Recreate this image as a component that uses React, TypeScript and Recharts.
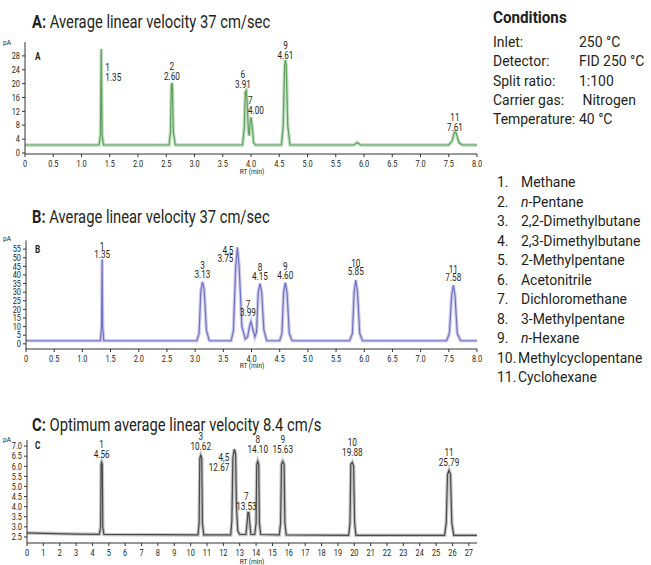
import React from "react";
import { ComposedChart, Line, XAxis, YAxis, ReferenceDot } from "recharts";

const FONT = "Roboto, 'Liberation Sans', sans-serif";
const INK = "#231f20";

// ---- chart A: 37 cm/sec (green) ----
const traceA: [number, number][] = [
	[0, 2.3], [1.31, 2.3], [1.335, 5], [1.35, 30], [1.365, 5], [1.39, 2.3],
	[2.55, 2.3], [2.575, 6], [2.59, 19.5], [2.6, 20.2], [2.61, 19], [2.625, 6], [2.66, 2.3],
	[3.85, 2.3], [3.88, 7], [3.9, 17.5], [3.915, 18], [3.93, 15], [3.955, 6], [3.97, 5],
	[3.985, 9], [4.0, 10.3], [4.02, 8], [4.045, 3], [4.08, 2.3],
	[4.54, 2.3], [4.57, 8], [4.595, 25], [4.61, 26.8], [4.625, 25], [4.65, 8], [4.69, 2.3],
	[5.82, 2.3], [5.88, 3], [5.94, 2.3],
	[7.5, 2.3], [7.56, 3.5], [7.6, 6], [7.63, 5.8], [7.68, 3], [7.74, 2.3], [8.0, 2.3],
];
const peaksA = [
	{ id: "1", rt: 1.35, pA: 30 },
	{ id: "2", rt: 2.6, pA: 20.2 },
	{ id: "6", rt: 3.91, pA: 18 },
	{ id: "7", rt: 4.0, pA: 10.3 },
	{ id: "9", rt: 4.61, pA: 26.8 },
	{ id: "11", rt: 7.61, pA: 6 },
];
const xTicksA = [0, 0.5, 1, 1.5, 2, 2.5, 3, 3.5, 4, 4.5, 5, 5.5, 6, 6.5, 7, 7.5, 8];
const yTicksA = [0, 4, 8, 12, 16, 20, 24, 28];

// ---- chart B: 37 cm/sec (blue) ----
const traceB: [number, number][] = [
	[0, 1.8], [1.32, 1.8], [1.34, 10], [1.35, 49], [1.36, 10], [1.38, 1.8],
	[3.03, 1.8], [3.07, 6], [3.1, 30], [3.13, 36], [3.16, 32], [3.2, 8], [3.25, 1.8],
	[3.64, 1.8], [3.68, 8], [3.72, 45], [3.75, 56], [3.78, 45], [3.83, 10], [3.89, 2.8],
	[3.93, 4], [3.97, 11], [3.99, 13], [4.02, 9], [4.06, 4],
	[4.09, 7], [4.12, 30], [4.15, 35], [4.18, 30], [4.22, 8], [4.27, 1.8],
	[4.5, 1.8], [4.54, 6], [4.57, 30], [4.6, 35.5], [4.63, 30], [4.67, 6], [4.72, 1.8],
	[5.74, 1.8], [5.79, 6], [5.82, 30], [5.85, 37], [5.88, 30], [5.92, 6], [5.97, 1.8],
	[7.46, 1.8], [7.51, 6], [7.55, 28], [7.58, 34], [7.61, 28], [7.65, 6], [7.71, 1.8], [8.0, 1.8],
];
const peaksB = [
	{ id: "1", rt: 1.35, pA: 49 },
	{ id: "3", rt: 3.13, pA: 36 },
	{ id: "4,5", rt: 3.75, pA: 56 },
	{ id: "7", rt: 3.99, pA: 13 },
	{ id: "8", rt: 4.15, pA: 35 },
	{ id: "9", rt: 4.6, pA: 35.5 },
	{ id: "10", rt: 5.85, pA: 37 },
	{ id: "11", rt: 7.58, pA: 34 },
];
const xTicksB = xTicksA;
const yTicksB = [0, 5, 10, 15, 20, 25, 30, 35, 40, 45, 50, 55];

// ---- chart C: 8.4 cm/s (gray) ----
const traceC: [number, number][] = [
	[0, 2.7], [1, 2.68], [3, 2.64], [4.42, 2.63], [4.5, 3.0], [4.53, 6.1], [4.56, 6.2], [4.6, 6.1], [4.63, 3.0], [4.7, 2.62],
	[8, 2.61], [10.45, 2.6], [10.52, 3.2], [10.56, 6.4], [10.62, 6.55], [10.68, 6.4], [10.72, 3.2], [10.8, 2.6],
	[12.45, 2.6], [12.52, 3.3], [12.58, 6.4], [12.67, 6.85], [12.75, 6.6], [12.8, 4], [12.88, 2.8], [13.0, 2.62],
	[13.38, 2.62], [13.46, 3.3], [13.5, 3.7], [13.56, 3.7], [13.6, 3.3], [13.68, 2.62],
	[13.92, 2.62], [14.0, 3.2], [14.04, 6.1], [14.1, 6.25], [14.16, 6.1], [14.2, 3.2], [14.28, 2.62],
	[15.42, 2.6], [15.5, 3.2], [15.55, 6.1], [15.63, 6.25], [15.71, 6.1], [15.76, 3.2], [15.84, 2.6],
	[19.66, 2.58], [19.74, 3.2], [19.79, 6.1], [19.88, 6.2], [19.96, 6.0], [20.02, 3.2], [20.1, 2.58],
	[25.52, 2.58], [25.62, 3.2], [25.7, 5.6], [25.79, 5.8], [25.88, 5.6], [25.96, 3.2], [26.08, 2.58], [27.5, 2.58],
];
const peaksC = [
	{ id: "1", rt: 4.56, pA: 6.2 },
	{ id: "3", rt: 10.62, pA: 6.55 },
	{ id: "4,5", rt: 12.67, pA: 6.85 },
	{ id: "7", rt: 13.53, pA: 3.7 },
	{ id: "8", rt: 14.1, pA: 6.25 },
	{ id: "9", rt: 15.63, pA: 6.25 },
	{ id: "10", rt: 19.88, pA: 6.2 },
	{ id: "11", rt: 25.79, pA: 5.8 },
];
const xTicksC = [0, 1, 2, 3, 4, 5, 6, 7, 8, 9, 10, 11, 12, 13, 14, 15, 16, 17, 18, 19, 20, 21, 22, 23, 24, 25, 26, 27];
const yTicksC = [2.5, 3, 3.5, 4, 4.5, 5, 5.5, 6, 6.5, 7];

const conditions = [
	["Inlet:", "250 °C"],
	["Detector:", "FID 250 °C"],
	["Split ratio:", "1:100"],
	["Carrier gas:", " Nitrogen"],
	["Temperature:", "40 °C"],
];
const compounds = [
	"Methane", "n-Pentane", "2,2-Dimethylbutane", "2,3-Dimethylbutane", "2-Methylpentane",
	"Acetonitrile", "Dichloromethane", "3-Methylpentane", "n-Hexane", "Methylcyclopentane", "Cyclohexane",
];

// label placement next to each apex (px), kept apart from the data
type Place = { anchor: "start" | "middle" | "end"; dx: number; dy: number };
const placeA: Record<string, Place> = {
	"1": { anchor: "start", dx: 4, dy: 19 },
	"2": { anchor: "middle", dx: 0, dy: -16 },
	"6": { anchor: "middle", dx: -3, dy: -16 },
	"7": { anchor: "start", dx: -3, dy: -17 },
	"9": { anchor: "middle", dx: 0, dy: -15 },
	"11": { anchor: "middle", dx: 0, dy: -15 },
};
const placeB: Record<string, Place> = {
	"1": { anchor: "middle", dx: 0, dy: -13 },
	"3": { anchor: "middle", dx: 0, dy: -16 },
	"4,5": { anchor: "end", dx: -4, dy: 3 },
	"7": { anchor: "middle", dx: -3, dy: -17 },
	"8": { anchor: "middle", dx: 0, dy: -16 },
	"9": { anchor: "middle", dx: 0, dy: -16 },
	"10": { anchor: "middle", dx: 0, dy: -17 },
	"11": { anchor: "middle", dx: 0, dy: -16 },
};
const placeC: Record<string, Place> = {
	"1": { anchor: "middle", dx: 0, dy: -18 },
	"3": { anchor: "middle", dx: 0, dy: -19 },
	"4,5": { anchor: "end", dx: -5, dy: 8 },
	"7": { anchor: "middle", dx: -2, dy: -16 },
	"8": { anchor: "middle", dx: 0, dy: -22 },
	"9": { anchor: "middle", dx: 0, dy: -22 },
	"10": { anchor: "middle", dx: 0, dy: -20 },
	"11": { anchor: "middle", dx: 0, dy: -18 },
};

// squeezes Roboto toward the condensed face of the original
const NARROW = 0.82;
const SIDE = 0.9;

const PeakLabel = (props: any) => {
	const { viewBox, peakId, rt, place, gap } = props;
	const x = viewBox.x + (viewBox.width || 0) / 2 + place.dx;
	const y = viewBox.y + (viewBox.height || 0) / 2 + place.dy;
	return (
		<g transform={`translate(${x},${y}) scale(${NARROW},1)`}>
			<text textAnchor={place.anchor} fontSize={10} fill={INK} fontFamily={FONT}>
				<tspan x={0} y={3.5}>{peakId}</tspan>
				<tspan x={0} y={gap + 3.5}>{rt.toFixed(2)}</tspan>
			</text>
		</g>
	);
};

const AxisTick = (props: any) => {
	const { x, y, payload, textAnchor, fmt, isX } = props;
	return (
		<g transform={`translate(${x},${y + (isX ? 1 : 0)}) scale(${NARROW},1)`}>
			<text textAnchor={textAnchor} dy={isX ? "0.75em" : "0.36em"} fontSize={9} fill={INK} fontFamily={FONT}>
				{fmt(payload.value)}
			</text>
		</g>
	);
};

const Txt = ({ x, y, children, size = 15, bold = false, center = false, sx = NARROW }: any) => (
	<div
		style={{
			position: "absolute",
			left: x,
			top: y,
			transform: center ? `translate(-50%, -50%) scaleX(${sx})` : `translateY(-50%) scaleX(${sx})`,
			transformOrigin: center ? "center center" : "left center",
			fontFamily: FONT,
			fontSize: size,
			fontWeight: bold ? 700 : 400,
			color: INK,
			whiteSpace: "pre",
			lineHeight: 1,
		}}
	>
		{children}
	</div>
);

const Chromatogram = (p: any) => {
	const data = p.trace.map(([rt, pA]: [number, number]) => ({ rt, pA }));
	return (
		<div style={{ position: "absolute", left: 0, top: p.top }}>
			<ComposedChart width={490} height={p.height} data={data} margin={p.margin}>
				<XAxis
					type="number"
					dataKey="rt"
					domain={p.xDomain}
					ticks={p.xTicks}
					interval={0}
					allowDataOverflow
					height={22}
					tickSize={3}
					stroke="#333"
					tick={<AxisTick fmt={p.xFmt} isX />}
				/>
				<YAxis
					type="number"
					domain={p.yDomain}
					ticks={p.yTicks}
					interval={0}
					allowDataOverflow
					width={20}
					tickSize={3}
					stroke="#333"
					tick={<AxisTick fmt={p.yFmt} />}
				/>
				<Line type="linear" dataKey="pA" stroke={p.halo} strokeWidth={3.5} dot={false} isAnimationActive={false} />
				<Line type="linear" dataKey="pA" stroke={p.color} strokeWidth={1.2} dot={false} isAnimationActive={false} />
				{p.peaks.map((pk: any) => (
					<ReferenceDot
						key={pk.id}
						x={pk.rt}
						y={pk.pA}
						r={0}
						fill="none"
						stroke="none"
						label={<PeakLabel peakId={pk.id} rt={pk.rt} place={p.place[pk.id]} gap={p.gap} />}
					/>
				))}
			</ComposedChart>
		</div>
	);
};

const fmtHalf = (v: number) => (v === 0 ? "0" : v.toFixed(1));

export default function App() {
	return (
		<div style={{ position: "absolute", left: 0, top: 0, width: 651, height: 565, background: "#fff", overflow: "hidden" }}>
			<Chromatogram
				top={30} height={150} margin={{ top: 12, right: 13, bottom: 4, left: 5 }}
				trace={traceA} peaks={peaksA} place={placeA} gap={10}
				xDomain={[0, 8]} yDomain={[-0.3, 32]} xTicks={xTicksA} yTicks={yTicksA}
				xFmt={fmtHalf} yFmt={(v: number) => String(v)}
				color="#5f9f5f" halo="#c2e0c2"
			/>
			<Chromatogram
				top={228} height={150} margin={{ top: 12.5, right: 13, bottom: 7, left: 6 }}
				trace={traceB} peaks={peaksB} place={placeB} gap={8.5}
				xDomain={[0, 8]} yDomain={[-3, 60]} xTicks={xTicksB} yTicks={yTicksB}
				xFmt={fmtHalf} yFmt={(v: number) => String(v)}
				color="#7373bd" halo="#cdcdee"
			/>
			<Chromatogram
				top={428} height={137} margin={{ top: 12, right: 13, bottom: 0, left: 7 }}
				trace={traceC} peaks={peaksC} place={placeC} gap={10}
				xDomain={[0, 27.5]} yDomain={[2.2, 7.3]} xTicks={xTicksC} yTicks={yTicksC}
				xFmt={(v: number) => String(v)} yFmt={(v: number) => v.toFixed(1)}
				color="#4a4a4a" halo="#c4c4c4"
			/>

			<Txt x={32} y={22} size={18}><b>A:</b> Average linear velocity 37 cm/sec</Txt>
			<Txt x={32} y={217} size={18}><b>B:</b> Average linear velocity 37 cm/sec</Txt>
			<Txt x={32} y={425} size={18}><b>C:</b> Optimum average linear velocity 8.4 cm/s</Txt>

			<Txt x={3} y={43} size={8}>pA</Txt>
			<Txt x={3} y={239} size={8}>pA</Txt>
			<Txt x={3} y={440} size={8}>pA</Txt>
			<Txt x={35} y={57} size={10} bold>A</Txt>
			<Txt x={35} y={250} size={10} bold>B</Txt>
			<Txt x={35} y={446} size={10} bold>C</Txt>
			<Txt x={252} y={172} size={8} center>RT (min)</Txt>
			<Txt x={252} y={366} size={8} center>RT (min)</Txt>
			<Txt x={252} y={562} size={8} center>RT (min)</Txt>

			<Txt x={493} y={18} size={16} bold sx={0.95}>Conditions</Txt>
			{conditions.map(([k, v], i) => (
				<React.Fragment key={k}>
					<Txt x={493} y={43 + i * 19.3} size={15.5} sx={SIDE}>{k}</Txt>
					<Txt x={579} y={43 + i * 19.3} size={15.5} sx={SIDE}>{v}</Txt>
				</React.Fragment>
			))}
			{compounds.map((c, i) => (
				<React.Fragment key={c}>
					<Txt x={497} y={183 + i * 19.5} size={15.5} sx={SIDE}>{`${i + 1}.`}</Txt>
					<Txt x={i >= 9 ? 518 : 521} y={183 + i * 19.5} size={15.5} sx={SIDE}>
						{c.startsWith("n-") ? (<><i>n</i>{c.slice(1)}</>) : c}
					</Txt>
				</React.Fragment>
			))}
		</div>
	);
}
